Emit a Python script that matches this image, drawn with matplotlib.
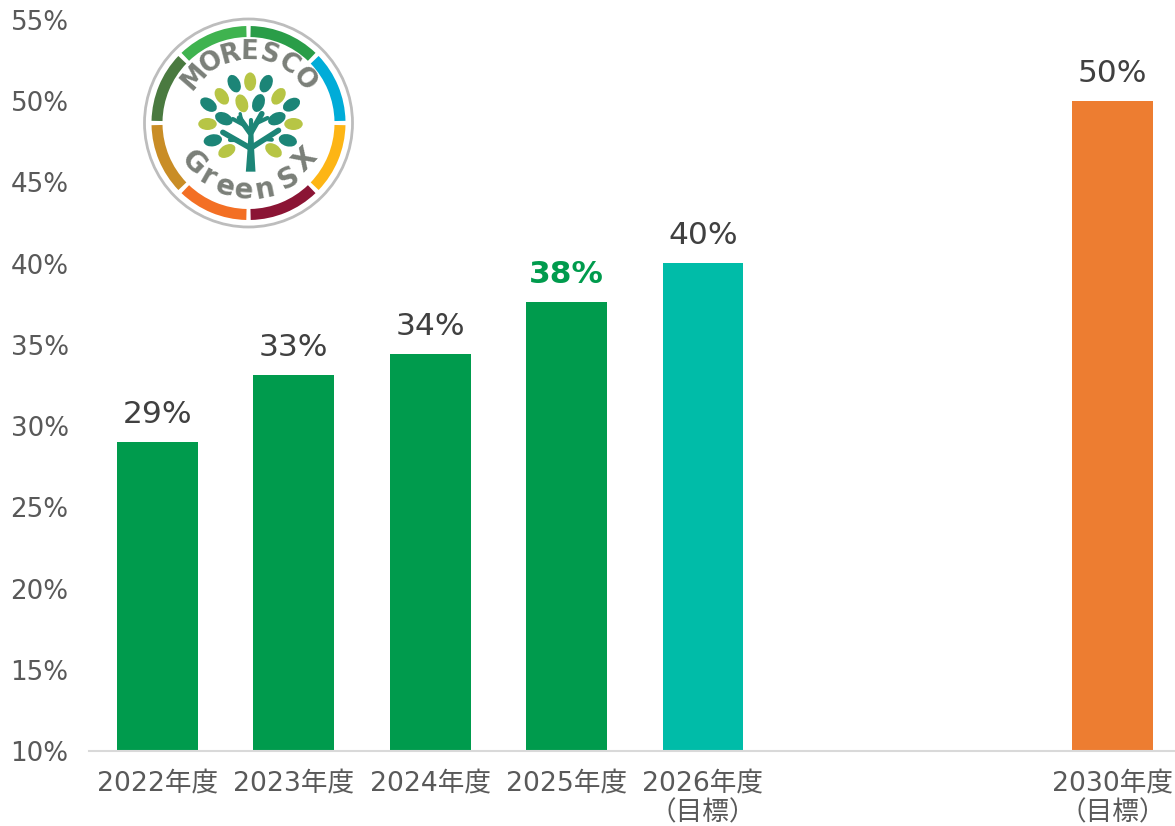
import numpy as np
import matplotlib
matplotlib.use("Agg")
import matplotlib.pyplot as plt
from matplotlib.patches import Wedge, Ellipse, Circle, Polygon

plt.rcParams['font.family'] = ['DejaVu Sans', 'Noto Sans CJK JP']

categories = ['2022年度', '2023年度', '2024年度', '2025年度', '2026年度\n（目標）', '', '', '2030年度\n（目標）']
values = [29.0, 33.15, 34.45, 37.65, 40.05, np.nan, np.nan, 50.0]
value_labels = ['29%', '33%', '34%', '38%', '40%', '', '', '50%']
bar_colors = ['#009B4D', '#009B4D', '#009B4D', '#009B4D', '#00BCA8', '#FFFFFF', '#FFFFFF', '#ED7D31']
label_colors = ['#404040', '#404040', '#404040', '#009B4D', '#404040', '#404040', '#404040', '#404040']
y_ticks = [10, 15, 20, 25, 30, 35, 40, 45, 50, 55]

W, H = 1175, 826
fig = plt.figure(figsize=(W / 100, H / 100), dpi=100, facecolor='white')
ax = fig.add_axes([89.0 / W, (H - 751) / H, 1091.5 / W, 731 / H])
x = np.arange(len(categories))
ax.bar(x, np.nan_to_num(values, nan=10.0) - 10.0, bottom=10.0, width=0.593, color=bar_colors, zorder=2)
ax.set_xlim(-0.5, 7.5)
ax.set_ylim(10, 55)
ax.set_xticks(x)
ax.set_xticklabels(categories, fontsize=19.2, color='#595959', linespacing=1.17)
ax.set_yticks(y_ticks)
ax.set_yticklabels([f'{v}%' for v in y_ticks], fontsize=18.8, color='#595959')
ax.tick_params(axis='both', length=0)
ax.tick_params(axis='y', pad=14.6)
ax.tick_params(axis='x', pad=14.5)
for s in ('top', 'right', 'left'):
    ax.spines[s].set_visible(False)
ax.spines['bottom'].set_color('#D9D9D9')
ax.spines['bottom'].set_linewidth(1.5)
ax.patch.set_alpha(0)

for xi, v, lab, col in zip(x, values, value_labels, label_colors):
    if lab:
        ax.annotate(lab, (xi, v), xytext=(0, 9.5), textcoords='offset points', ha='center', va='bottom',
                    fontsize=22.5, color=col, fontweight='bold' if col != '#404040' else 'normal')

# Logo (decorative), local pixel units around its centre, y up
R = 107
cx, cy = 248.5, 123
lg = fig.add_axes([(cx - R) / W, (H - cy - R) / H, 2 * R / W, 2 * R / H], zorder=5)
lg.set_xlim(-R, R)
lg.set_ylim(-R, R)
lg.axis('off')
lg.add_patch(Circle((0, 0), 104, fc='white', ec='#BDBDBD', lw=2))
ring_colors = ['#2A9D48', '#00ACD8', '#FDB515', '#8B1535', '#F36F24', '#C98D26', '#4A7A40', '#3FB34F']
for i, c in enumerate(ring_colors):
    a1 = 90 - 45 * i
    lg.add_patch(Wedge((0, 0), 97, a1 - 45 + 1.3, a1 - 1.3, width=11, fc=c, ec='none'))

def zx(v): return (v - 355) / 3
def zy(v): return (340 - v) / 3

teal = [(312, 222, 115), (408, 222, 65), (235, 285, 145), (385, 280, 70), (484, 285, 30),
        (281, 327, 155), (440, 327, 25), (248, 392, 10), (473, 392, 165)]
lime = [(360, 216, 90), (275, 260, 125), (335, 281, 110), (445, 260, 55), (232, 343, 0),
        (490, 343, 0), (290, 424, 30), (430, 422, 145)]
for pts, col in ((teal, '#1C8577'), (lime, '#B7C545')):
    for px, py, ang in pts:
        lg.add_patch(Ellipse((zx(px), zy(py)), 18.5, 12, angle=ang, fc=col, ec='none'))

lg.add_patch(Polygon([(zx(a), zy(b)) for a, b in [(347, 486), (376, 486), (372, 420), (369, 350), (356, 350), (352, 420)]],
                     fc='#1C8577', ec='none'))
branches = [(360, 415, 278, 368, 4.0), (362, 415, 445, 362, 4.0), (320, 392, 300, 392, 3.0),
            (405, 388, 425, 390, 3.0), (360, 370, 328, 325, 4.0), (362, 370, 395, 312, 4.0),
            (345, 348, 308, 328, 3.0), (380, 340, 412, 325, 3.0), (362, 355, 362, 330, 3.0),
            (335, 335, 330, 312, 2.4)]
for a, b, c, d, lw in branches:
    lg.plot([zx(a), zx(c)], [zy(b), zy(d)], color='#1C8577', lw=lw, solid_capstyle='round')

top_word = 'MORESCO'
for ch, ang in zip(top_word, [139, 121, 105, 89, 73, 56, 38]):
    t = np.deg2rad(ang)
    lg.text(71 * np.cos(t), 71 * np.sin(t), ch, rotation=ang - 90, rotation_mode='anchor', ha='center', va='center',
            fontsize=18.5, fontweight='bold', color='#7A7F78')
bot_word = 'Green SX'
for ch, ang in zip(bot_word, [216, 233, 250, 266, 284, 0, 306, 327]):
    if ch == ' ':
        continue
    t = np.deg2rad(ang)
    lg.text(68 * np.cos(t), 68 * np.sin(t), ch, rotation=(ang - 270) * 0.8, rotation_mode='anchor', ha='center', va='center',
            fontsize=20, fontweight='bold', color='#7A7F78')

fig.savefig('out.png', dpi=100)
